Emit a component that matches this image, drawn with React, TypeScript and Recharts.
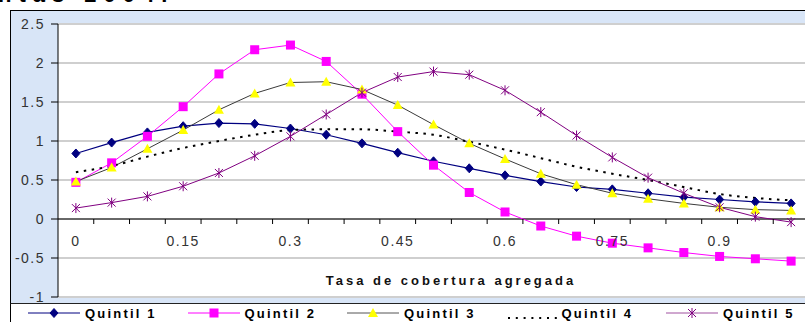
import { CartesianGrid, Line, LineChart, ReferenceLine, XAxis, YAxis } from "recharts";

const X_VALUES = [0, 0.05, 0.1, 0.15, 0.2, 0.25, 0.3, 0.35, 0.4, 0.45, 0.5, 0.55, 0.6, 0.65, 0.7, 0.75, 0.8, 0.85, 0.9, 0.95, 1];
const QUINTIL_1 = [0.84, 0.98, 1.11, 1.19, 1.23, 1.22, 1.16, 1.08, 0.97, 0.85, 0.74, 0.65, 0.56, 0.48, 0.41, 0.38, 0.33, 0.28, 0.25, 0.22, 0.2];
const QUINTIL_2 = [0.47, 0.72, 1.06, 1.44, 1.86, 2.17, 2.23, 2.02, 1.6, 1.12, 0.69, 0.34, 0.09, -0.09, -0.22, -0.31, -0.37, -0.43, -0.48, -0.51, -0.54];
const QUINTIL_3 = [0.48, 0.66, 0.9, 1.14, 1.4, 1.61, 1.75, 1.76, 1.66, 1.46, 1.21, 0.97, 0.77, 0.58, 0.44, 0.33, 0.26, 0.2, 0.15, 0.12, 0.11];
const QUINTIL_4 = [0.6, 0.68, 0.8, 0.91, 1.0, 1.08, 1.14, 1.15, 1.15, 1.12, 1.08, 0.99, 0.89, 0.78, 0.67, 0.58, 0.5, 0.41, 0.32, 0.27, 0.24];
const QUINTIL_5 = [0.14, 0.21, 0.29, 0.42, 0.59, 0.81, 1.06, 1.34, 1.62, 1.82, 1.89, 1.85, 1.65, 1.37, 1.07, 0.79, 0.53, 0.33, 0.15, 0.03, -0.04];

const X_LABEL_TICKS = [0, 0.15, 0.3, 0.45, 0.6, 0.75, 0.9];
const X_TICK_MARKS = [0.025, 0.075, 0.125, 0.175, 0.225, 0.275, 0.325, 0.375, 0.425, 0.475, 0.525, 0.575, 0.625, 0.675, 0.725, 0.775, 0.825, 0.875, 0.925, 0.975];
const Y_TICKS = [-1, -0.5, 0, 0.5, 1, 1.5, 2, 2.5];
const Y_MIN = -1;
const Y_MAX = 2.5;

const data = X_VALUES.map((x, i) => ({
  x,
  q1: QUINTIL_1[i],
  q2: QUINTIL_2[i],
  q3: QUINTIL_3[i],
  q4: QUINTIL_4[i],
  q5: QUINTIL_5[i],
}));

const FONT = "'Liberation Sans', Arial, sans-serif";
const CHART_W = 830;
const CHART_H = 322;
const MARGIN = { top: 24, right: 21, bottom: 24, left: 10 };
const PLOT_TOP = MARGIN.top;
const PLOT_BOTTOM = CHART_H - MARGIN.bottom - 1;

const C1 = "#000080";
const C2 = "#ff00ff";
const C3 = "#3a3a3a";
const C5 = "#800080";

function diamond(cx: number, cy: number, key?: any) {
  return <path key={key} d={`M${cx},${cy - 4.5}L${cx + 4},${cy}L${cx},${cy + 4.5}L${cx - 4},${cy}Z`} fill={C1} stroke={C1} />;
}
function square(cx: number, cy: number, key?: any) {
  return <rect key={key} x={cx - 4.5} y={cy - 4.5} width={9} height={9} fill={C2} />;
}
function triangle(cx: number, cy: number, key?: any) {
  return <path key={key} d={`M${cx},${cy - 5}L${cx + 5},${cy + 4}L${cx - 5},${cy + 4}Z`} fill="#ffff00" />;
}
function asterisk(cx: number, cy: number, key?: any) {
  return (
    <g key={key} stroke={C5} strokeWidth={1}>
      <line x1={cx} y1={cy - 5} x2={cx} y2={cy + 5} />
      <line x1={cx - 4} y1={cy - 4} x2={cx + 4} y2={cy + 4} />
      <line x1={cx - 4} y1={cy + 4} x2={cx + 4} y2={cy - 4} />
    </g>
  );
}

// x axis sits on the zero line, inside the plot
const renderXTick = (props: any) => {
  const { x, payload, index } = props;
  const zeroY = PLOT_TOP + ((PLOT_BOTTOM - PLOT_TOP) * (Y_MAX - 0)) / (Y_MAX - Y_MIN);
  if (X_LABEL_TICKS.includes(payload.value)) {
    return (
      <text key={index} x={x} y={zeroY + 27} textAnchor="middle" fill="#333" fontSize={14} letterSpacing={1.5} fontFamily={FONT}>
        {String(payload.value)}
      </text>
    );
  }
  return <line key={index} x1={x} x2={x} y1={zeroY} y2={zeroY + 5} stroke="#000" />;
};

const legendItems = [
  { name: "Quintil 1", color: C1, marker: diamond },
  { name: "Quintil 2", color: C2, marker: square },
  { name: "Quintil 3", color: "#555", marker: triangle },
  { name: "Quintil 4", color: "#000", marker: null },
  { name: "Quintil 5", color: "#a050a0", marker: asterisk },
];

export default function App() {
  return (
    <div style={{ position: "absolute", left: 0, top: 0, width: 805, height: 322, overflow: "hidden", background: "#fff", fontFamily: FONT }}>
      <div style={{ position: "absolute", left: -2, top: -16, fontSize: 22, fontWeight: "bold", letterSpacing: 7, lineHeight: 1, color: "#000", whiteSpace: "nowrap" }}>
        ntas 2004.
      </div>
      <div
        style={{
          position: "absolute",
          left: 10,
          top: 10,
          width: 830,
          height: 292,
          borderTop: "1px solid #000",
          borderLeft: "1px solid #000",
          background: "#d8e5f7",
        }}
      />
      <div
        style={{
          position: "absolute",
          left: 10,
          top: 303,
          width: 830,
          height: 30,
          borderTop: "1px solid #222",
          borderLeft: "1px solid #000",
          background: "#fff",
        }}
      >
        <div style={{ display: "flex", paddingLeft: 17, paddingTop: 1 }}>
          {legendItems.map((it) => (
            <div key={it.name} style={{ width: 159.5, display: "flex", alignItems: "center", flexShrink: 0 }}>
              <svg width={54} height={16}>
                {it.marker ? (
                  <>
                    <line x1={0} y1={8} x2={52} y2={8} stroke={it.color} strokeWidth={1} />
                    {it.marker(26, 8)}
                  </>
                ) : (
                  <line x1={1} y1={13} x2={54} y2={13} stroke="#000" strokeWidth={2} strokeDasharray="2 5.8" />
                )}
              </svg>
              <span style={{ fontSize: 13, fontWeight: "bold", letterSpacing: 2.2, marginLeft: it.marker ? 3 : 1, color: "#000" }}>{it.name}</span>
            </div>
          ))}
        </div>
      </div>
      <div style={{ position: "absolute", left: 0, top: 0 }}>
        <LineChart width={CHART_W} height={CHART_H} data={data} margin={MARGIN}>
          <CartesianGrid vertical={false} fill="#fff" stroke="#cfcfcf" strokeWidth={2} />
          <ReferenceLine y={0} stroke="#000" strokeWidth={1} />
          <Line dataKey="q1" stroke={C1} strokeWidth={1.2} isAnimationActive={false} dot={(p: any) => diamond(p.cx, p.cy, p.index)} />
          <Line dataKey="q2" stroke={C2} strokeWidth={1} isAnimationActive={false} dot={(p: any) => square(p.cx, p.cy, p.index)} />
          <Line dataKey="q3" stroke={C3} strokeWidth={1} isAnimationActive={false} dot={(p: any) => triangle(p.cx, p.cy, p.index)} />
          <Line dataKey="q4" type="monotone" stroke="#000" strokeWidth={2} strokeDasharray="2.5 5.5" isAnimationActive={false} dot={false} />
          <Line dataKey="q5" stroke={C5} strokeWidth={1} isAnimationActive={false} dot={(p: any) => asterisk(p.cx, p.cy, p.index)} />
          <XAxis
            dataKey="x"
            type="number"
            domain={[-0.025, 1.025]}
            ticks={[...X_LABEL_TICKS, ...X_TICK_MARKS].sort((a, b) => a - b)}
            interval={0}
            axisLine={false}
            tickLine={false}
            tickSize={0}
            tickMargin={0}
            height={1}
            tick={renderXTick}
          />
          <YAxis
            domain={[Y_MIN, Y_MAX]}
            ticks={Y_TICKS}
            width={48}
            allowDataOverflow
            tickFormatter={(v) => String(v)}
            axisLine={{ stroke: "#000" }}
            tickLine={{ stroke: "#000" }}
            tickSize={7}
            tickMargin={6}
            tick={{ fill: "#333", fontSize: 14, letterSpacing: 1.5, fontFamily: FONT }}
          />
        </LineChart>
      </div>
      <div
        style={{
          position: "absolute",
          left: 0,
          width: 902,
          top: 273,
          textAlign: "center",
          fontSize: 13,
          fontWeight: "bold",
          letterSpacing: 3,
          color: "#111",
        }}
      >
        Tasa de cobertura agregada
      </div>
    </div>
  );
}
